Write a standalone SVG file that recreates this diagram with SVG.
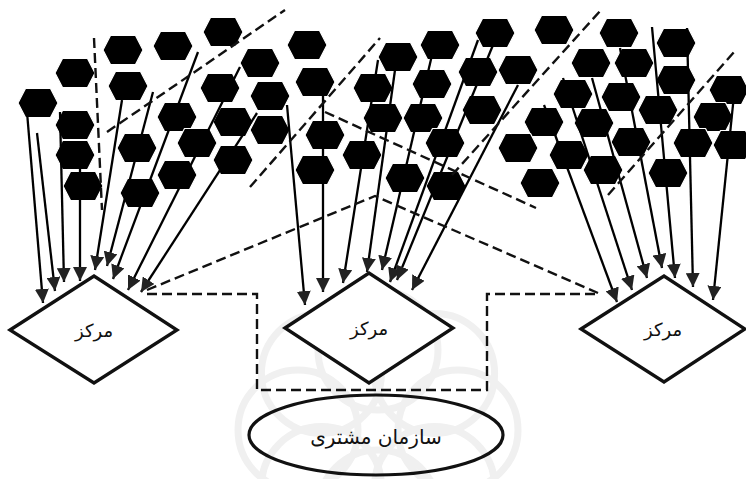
<svg xmlns="http://www.w3.org/2000/svg" xmlns:xlink="http://www.w3.org/1999/xlink" width="746" height="479" viewBox="0 0 746 479">
  <style>
    .hex { fill: #000; stroke: #fff; stroke-width: 1.2; stroke-linejoin: round; }
    .feed { stroke: #000; stroke-width: 2.3; fill: none; marker-end: url(#arrow); }
    .dash { stroke: #111; stroke-width: 2.4; fill: none; stroke-dasharray: 10 5; }
    .center { fill: #fff; stroke: #111; stroke-width: 3.3; stroke-linejoin: miter; }
    .org { fill: none; stroke: #111; stroke-width: 3.2; }
    .label { font-family: "DejaVu Sans", sans-serif; fill: #111; text-anchor: middle; }
    .mark { fill: none; stroke: #f0f0f0; stroke-width: 7; }
  </style>
  <defs>
    <polygon id="hex" points="-20,0 -12.5,-14.5 12.5,-14.5 20,0 12.5,14.5 -12.5,14.5"/>
    <marker id="arrow" markerUnits="userSpaceOnUse" markerWidth="15" markerHeight="14" refX="14" refY="7" orient="auto">
      <path d="M0,0 L14,7 L0,14 z" fill="#222"/>
    </marker>
  </defs>

  <rect width="746" height="479" fill="#fff"/>

  <!-- faint background rosette -->
  <g id="watermark" class="mark">
    <circle cx="458" cy="430" r="60"/>
    <circle cx="434.6" cy="486.6" r="60"/>
    <circle cx="378" cy="510" r="60"/>
    <circle cx="321.4" cy="486.6" r="60"/>
    <circle cx="298" cy="430" r="60"/>
    <circle cx="321.4" cy="373.4" r="60"/>
    <circle cx="378" cy="350" r="60"/>
    <circle cx="434.6" cy="373.4" r="60"/>
  </g>

  <!-- customer units, left cluster -->
  <g id="units-left" class="hex">
    <g id="u1"><use xlink:href="#hex" x="223" y="32"/></g>
    <g id="u2"><use xlink:href="#hex" x="173" y="46"/></g>
    <g id="u3"><use xlink:href="#hex" x="123" y="50"/></g>
    <g id="u4"><use xlink:href="#hex" x="75" y="73"/></g>
    <g id="u5"><use xlink:href="#hex" x="128" y="86"/></g>
    <g id="u6"><use xlink:href="#hex" x="220" y="88"/></g>
    <g id="u7"><use xlink:href="#hex" x="38" y="103"/></g>
    <g id="u8"><use xlink:href="#hex" x="260" y="63"/></g>
    <g id="u9"><use xlink:href="#hex" x="270" y="96"/></g>
    <g id="u10"><use xlink:href="#hex" x="75" y="125"/></g>
    <g id="u11"><use xlink:href="#hex" x="177" y="117"/></g>
    <g id="u12"><use xlink:href="#hex" x="233" y="122"/></g>
    <g id="u13"><use xlink:href="#hex" x="270" y="130"/></g>
    <g id="u14"><use xlink:href="#hex" x="197" y="143"/></g>
    <g id="u15"><use xlink:href="#hex" x="137" y="148"/></g>
    <g id="u16"><use xlink:href="#hex" x="75" y="155"/></g>
    <g id="u17"><use xlink:href="#hex" x="233" y="160"/></g>
    <g id="u18"><use xlink:href="#hex" x="177" y="175"/></g>
    <g id="u19"><use xlink:href="#hex" x="83" y="186"/></g>
    <g id="u20"><use xlink:href="#hex" x="140" y="193"/></g>
  </g>

  <!-- customer units, middle cluster -->
  <g id="units-middle" class="hex">
    <g id="u21"><use xlink:href="#hex" x="307" y="45"/></g>
    <g id="u22"><use xlink:href="#hex" x="315" y="82"/></g>
    <g id="u23"><use xlink:href="#hex" x="325" y="135"/></g>
    <g id="u24"><use xlink:href="#hex" x="315" y="170"/></g>
    <g id="u25"><use xlink:href="#hex" x="362" y="155"/></g>
    <g id="u26"><use xlink:href="#hex" x="398" y="57"/></g>
    <g id="u27"><use xlink:href="#hex" x="440" y="45"/></g>
    <g id="u28"><use xlink:href="#hex" x="373" y="88"/></g>
    <g id="u29"><use xlink:href="#hex" x="432" y="84"/></g>
    <g id="u30"><use xlink:href="#hex" x="383" y="118"/></g>
    <g id="u31"><use xlink:href="#hex" x="423" y="118"/></g>
    <g id="u32"><use xlink:href="#hex" x="445" y="143"/></g>
    <g id="u33"><use xlink:href="#hex" x="405" y="178"/></g>
    <g id="u34"><use xlink:href="#hex" x="446" y="186"/></g>
    <g id="u35"><use xlink:href="#hex" x="478" y="72"/></g>
    <g id="u36"><use xlink:href="#hex" x="495" y="33"/></g>
    <g id="u37"><use xlink:href="#hex" x="482" y="110"/></g>
  </g>

  <!-- customer units, right cluster -->
  <g id="units-right" class="hex">
    <g id="u38"><use xlink:href="#hex" x="554" y="30"/></g>
    <g id="u39"><use xlink:href="#hex" x="518" y="70"/></g>
    <g id="u40"><use xlink:href="#hex" x="619" y="33"/></g>
    <g id="u41"><use xlink:href="#hex" x="591" y="63"/></g>
    <g id="u42"><use xlink:href="#hex" x="634" y="63"/></g>
    <g id="u43"><use xlink:href="#hex" x="676" y="43"/></g>
    <g id="u44"><use xlink:href="#hex" x="676" y="80"/></g>
    <g id="u45"><use xlink:href="#hex" x="573" y="94"/></g>
    <g id="u46"><use xlink:href="#hex" x="621" y="97"/></g>
    <g id="u47"><use xlink:href="#hex" x="658" y="110"/></g>
    <g id="u48"><use xlink:href="#hex" x="729" y="90"/></g>
    <g id="u49"><use xlink:href="#hex" x="544" y="122"/></g>
    <g id="u50"><use xlink:href="#hex" x="594" y="123"/></g>
    <g id="u51"><use xlink:href="#hex" x="713" y="117"/></g>
    <g id="u52"><use xlink:href="#hex" x="518" y="148"/></g>
    <g id="u53"><use xlink:href="#hex" x="569" y="155"/></g>
    <g id="u54"><use xlink:href="#hex" x="631" y="142"/></g>
    <g id="u55"><use xlink:href="#hex" x="693" y="143"/></g>
    <g id="u56"><use xlink:href="#hex" x="733" y="145"/></g>
    <g id="u57"><use xlink:href="#hex" x="603" y="170"/></g>
    <g id="u58"><use xlink:href="#hex" x="668" y="173"/></g>
    <g id="u59"><use xlink:href="#hex" x="540" y="183"/></g>
  </g>

  <!-- connectors -->
  <g id="connectors">
    <!-- feeds into the left center -->
    <line class="feed" x1="27" y1="112" x2="43" y2="303"/>
    <line class="feed" x1="37" y1="133" x2="55" y2="291"/>
    <line class="feed" x1="60" y1="112" x2="64" y2="282"/>
    <line class="feed" x1="80" y1="150" x2="80" y2="281"/>
    <line class="feed" x1="122" y1="100" x2="95" y2="270"/>
    <line class="feed" x1="153" y1="92" x2="107" y2="266"/>
    <line class="feed" x1="198" y1="52" x2="113" y2="279"/>
    <line class="feed" x1="240" y1="67" x2="128" y2="290"/>
    <line class="feed" x1="257" y1="113" x2="141" y2="292"/>
    <!-- feeds into the middle center -->
    <line class="feed" x1="287" y1="105" x2="305" y2="305"/>
    <line class="feed" x1="323" y1="95" x2="323" y2="292"/>
    <line class="feed" x1="378" y1="60" x2="343" y2="283"/>
    <line class="feed" x1="395" y1="70" x2="367" y2="272"/>
    <line class="feed" x1="432" y1="55" x2="382" y2="270"/>
    <line class="feed" x1="478" y1="40" x2="390" y2="282"/>
    <line class="feed" x1="493" y1="45" x2="397" y2="280"/>
    <line class="feed" x1="518" y1="85" x2="412" y2="290"/>
    <!-- feeds into the right center -->
    <line class="feed" x1="544" y1="105" x2="617" y2="302"/>
    <line class="feed" x1="563" y1="78" x2="632" y2="290"/>
    <line class="feed" x1="592" y1="78" x2="647" y2="278"/>
    <line class="feed" x1="620" y1="48" x2="662" y2="268"/>
    <line class="feed" x1="652" y1="27" x2="675" y2="278"/>
    <line class="feed" x1="687" y1="28" x2="693" y2="287"/>
    <line class="feed" x1="734" y1="95" x2="713" y2="300"/>

    <!-- dashed partitions between unit clusters -->
    <line class="dash" x1="94" y1="38" x2="102" y2="210"/>
    <line class="dash" x1="107" y1="132" x2="285" y2="10"/>
    <line class="dash" x1="250" y1="187" x2="380" y2="38"/>
    <line class="dash" x1="325" y1="112" x2="536" y2="208"/>
    <line class="dash" x1="452" y1="175" x2="601" y2="10"/>
    <line class="dash" x1="608" y1="195" x2="734" y2="52"/>
    <!-- dashed links between the centers -->
    <polyline class="dash" points="147,290 375,196 598,293"/>
    <polyline class="dash" points="147,294 257,294 257,390 487,390 487,294 598,294"/>
  </g>

  <!-- distribution centers -->
  <g id="center-left">
    <polygon class="center" points="10,330 94,276 177,330 94,383"/>
    <text class="label" x="94" y="337" font-size="18">مرکز</text>
  </g>
  <g id="center-middle">
    <polygon class="center" points="285,328 369,273 453,328 369,383"/>
    <text class="label" x="369" y="335" font-size="18">مرکز</text>
  </g>
  <g id="center-right">
    <polygon class="center" points="581,329 664,276 745,329 664,382"/>
    <text class="label" x="663" y="336" font-size="18">مرکز</text>
  </g>

  <!-- customer organization -->
  <g id="organization">
    <ellipse class="org" cx="376" cy="435" rx="127" ry="40"/>
    <text class="label" x="376" y="444" font-size="20">سازمان مشتری</text>
  </g>
</svg>
